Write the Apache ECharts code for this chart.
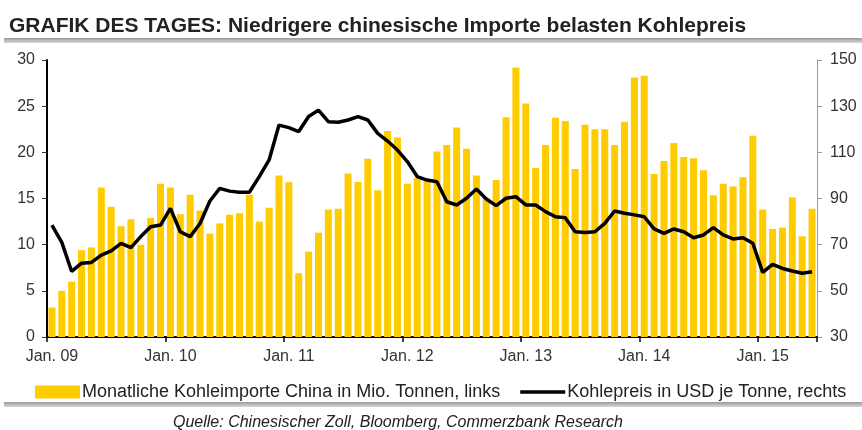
<!DOCTYPE html>
<html>
<head>
<meta charset="utf-8">
<script src="https://cdn.jsdelivr.net/npm/echarts@6/dist/echarts.min.js"></script>
<style>
html,body{margin:0;padding:0;background:#fff;}
#chart{width:862px;height:430px;}
</style>
</head>
<body>
<div id="chart"></div>
<script>
// Months Jan 2009 - Jun 2015
var years = ['09','10','11','12','13','14','15'];
var monthNames = ['Jan.','Feb.','Mär.','Apr.','Mai','Jun.','Jul.','Aug.','Sep.','Okt.','Nov.','Dez.'];
var categories = [];
years.forEach(function (y) {
  monthNames.forEach(function (m) { categories.push(m + ' ' + y); });
});
categories = categories.slice(0, 78);

// Monthly coal imports China, million tonnes (left axis)
var imports = [
  3.2, 5.0, 6.0, 9.4, 9.7, 16.2, 14.1, 12.0, 12.75, 10.0, 12.9, 16.6,
  16.2, 13.3, 15.4, 13.7, 11.2, 12.3, 13.25, 13.4, 15.4, 12.5, 14.0, 17.5,
  16.75, 6.9, 9.25, 11.3, 13.8, 13.9, 17.7, 16.8, 19.3, 15.9, 22.3, 21.6,
  16.6, 17.2, 16.9, 20.1, 20.8, 22.7, 20.4, 17.5, 15.0, 17.0, 23.8, 29.2,
  25.3, 18.3, 20.8, 23.75, 23.4, 18.2, 23.0, 22.5, 22.5, 20.8, 23.3, 28.1,
  28.3, 17.65, 19.05, 21.0, 19.5, 19.35, 18.05, 15.35, 16.6, 16.3, 17.3, 21.8,
  13.8, 11.7, 11.85, 15.1, 10.9, 13.9
];

// Coal price, USD per tonne (right axis)
var price = [
  78.5, 71.0, 58.4, 62.0, 62.3, 65.5, 67.3, 70.6, 68.7, 73.5, 77.8, 78.5,
  85.7, 75.6, 73.5, 79.2, 88.9, 94.4, 93.2, 92.7, 92.7, 99.5, 106.7, 121.8,
  120.7, 119.0, 125.5, 128.3, 123.3, 123.0, 124.0, 125.5, 124.0, 118.2, 114.9, 111.0,
  106.0, 99.5, 98.0, 97.3, 88.6, 87.2, 90.1, 94.1, 89.8, 86.9, 90.1, 90.8,
  87.2, 87.2, 84.3, 82.1, 81.7, 75.6, 75.3, 75.6, 79.2, 84.6, 83.6, 82.9,
  82.1, 76.8, 74.9, 76.8, 75.6, 73.0, 74.2, 77.4, 74.2, 72.5, 73.0, 70.6,
  58.0, 61.5, 59.7, 58.6, 57.6, 58.3
];

var leftTicks = [0, 30, 5];    // min, max, interval
var rightTicks = [30, 150, 20];

var barName = 'Monatliche Kohleimporte China in Mio. Tonnen, links';
var lineName = 'Kohlepreis in USD je Tonne, rechts';
var titleText = 'GRAFIK DES TAGES: Niedrigere chinesische Importe belasten Kohlepreis';
var sourceText = 'Quelle: Chinesischer Zoll, Bloomberg, Commerzbank Research';

var FONT = 'Liberation Sans, Arial, sans-serif';
var chart = echarts.init(document.getElementById('chart'), null, {renderer: 'canvas'});

var sepGrad = new echarts.graphic.LinearGradient(0, 0, 0, 1, [
  {offset: 0, color: '#9a9a9a'}, {offset: 1, color: '#d8d8d8'}
]);

chart.setOption({
  backgroundColor: '#fff',
  animation: false,
  title: {
    text: titleText,
    left: 4, top: 11,
    textStyle: {fontFamily: FONT, fontSize: 21, fontWeight: 'bold', color: '#222'}
  },
  graphic: [
    {type: 'rect', shape: {x: 4, y: 38, width: 858, height: 5}, style: {fill: sepGrad}, silent: true},
    {type: 'rect', shape: {x: 4, y: 402, width: 858, height: 5}, style: {fill: sepGrad}, silent: true},
    {type: 'text', left: 173, top: 415, style: {text: sourceText, font: 'italic 16px ' + FONT, fill: '#222'}}
  ],
  legend: {
    left: 30, top: 378,
    itemWidth: 45, itemHeight: 13, itemGap: 20,
    textStyle: {fontFamily: FONT, fontSize: 18, color: '#222', padding: [0, 0, 0, -3]},
    data: [
      {name: barName, icon: 'rect'},
      {name: lineName, icon: 'path://M0,0L47,0L47,3.5L0,3.5Z', itemStyle: {color: '#000'}}
    ]
  },
  grid: {left: 47, right: 45, top: 60, bottom: 93, containLabel: false},
  xAxis: {
    type: 'category',
    data: categories,
    boundaryGap: true,
    axisLine: {lineStyle: {color: '#000', width: 2}},
    axisTick: {
      show: true, length: 5, inside: false,
      interval: function (i) { return i % 12 === 0; },
      lineStyle: {color: '#000', width: 1.5}
    },
    axisLabel: {
      interval: function (i) { return i % 12 === 0; },
      margin: 12,
      formatter: function (v) { return v.replace(/^\S+/, 'Jan.'); },
      fontFamily: FONT, fontSize: 16, color: '#333'
    },
    splitLine: {show: false}
  },
  yAxis: [
    {
      type: 'value', min: leftTicks[0], max: leftTicks[1], interval: leftTicks[2],
      axisLine: {show: true, lineStyle: {color: '#000', width: 2}},
      axisTick: {show: true, length: 5, lineStyle: {color: '#333', width: 1}},
      axisLabel: {margin: 12, fontFamily: FONT, fontSize: 16, color: '#333'},
      splitLine: {show: false}
    },
    {
      type: 'value', min: rightTicks[0], max: rightTicks[1], interval: rightTicks[2],
      position: 'right',
      axisLine: {show: true, lineStyle: {color: '#999', width: 1}},
      axisTick: {show: true, length: 5, lineStyle: {color: '#999', width: 1}},
      axisLabel: {margin: 13, fontFamily: FONT, fontSize: 16, color: '#333'},
      splitLine: {show: false}
    }
  ],
  series: [
    {
      name: barName, type: 'bar', yAxisIndex: 0, data: imports,
      barWidth: 7,
      itemStyle: {color: '#FFCC00'}
    },
    {
      name: lineName, type: 'line', yAxisIndex: 1, data: price,
      symbol: 'none', showSymbol: false,
      lineStyle: {color: '#000', width: 3.5},
      itemStyle: {color: '#000'}
    }
  ]
});
</script>
</body>
</html>
